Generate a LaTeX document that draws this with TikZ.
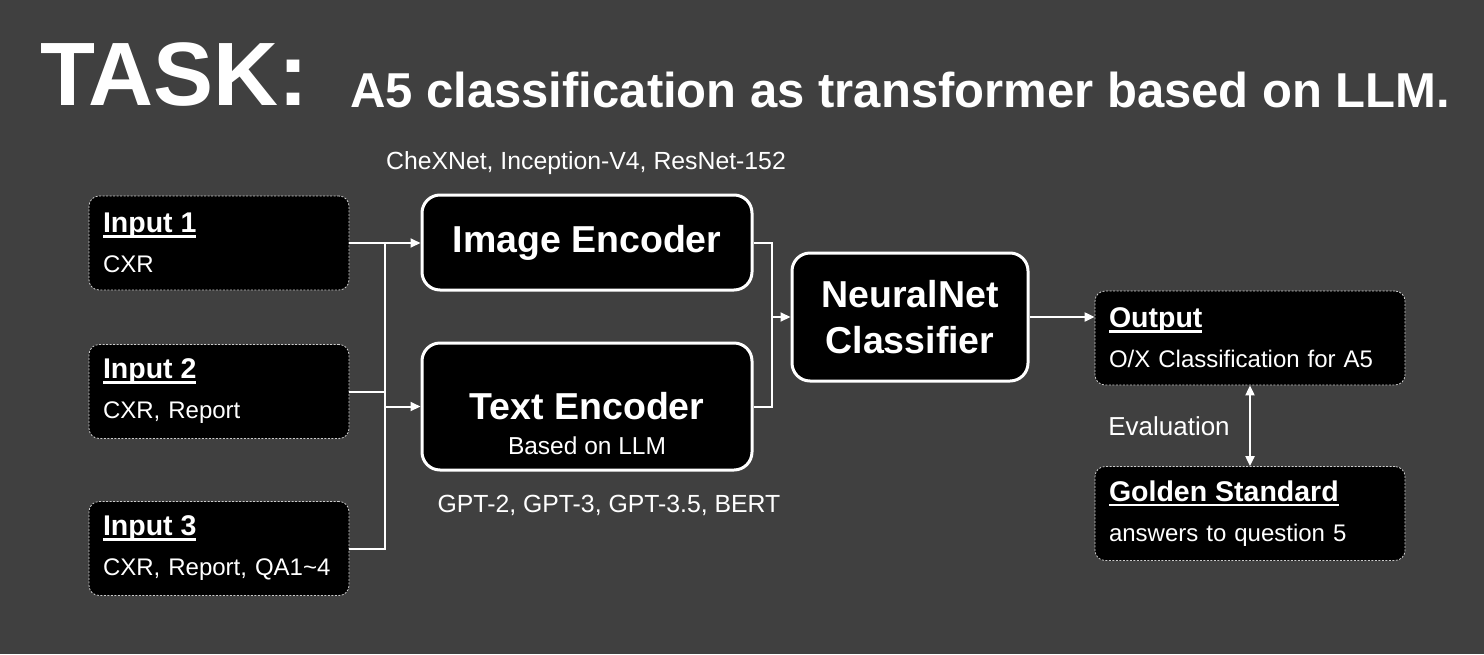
\documentclass[tikz,border=0pt]{standalone}
\usepackage{fontspec}
\setmainfont{Liberation Sans}
\usetikzlibrary{arrows.meta}

\definecolor{bgdark}{HTML}{404040}
\newcommand\ulhead[1]{\setbox0\hbox{\fontsize{28.5}{30}\selectfont\bfseries #1}\rlap{\rule[-5pt]{\wd0}{2.5pt}}\box0}

\begin{document}
\begin{tikzpicture}[x=1pt, y=-1pt, >={Triangle[length=10pt,width=9pt]},
  encbox/.style={draw=white, line width=3pt, fill=black, rounded corners=18pt,
    text=white, align=center, font=\fontsize{37.5}{46}\selectfont\bfseries},
  inbox/.style={draw=white!80!black, line width=0.8pt, dash pattern=on 2pt off 1.5pt,
    fill=black, rounded corners=10pt, minimum width=260pt, minimum height=94pt,
    text width=232pt, align=left, text=white, font=\fontsize{24}{40}\selectfont},
  conn/.style={draw=white, line width=2pt},
  note/.style={text=white, font=\fontsize{24.8}{28}\selectfont}]
  \fill[bgdark] (0,0) rectangle (1484,654);

  % title
  \node[anchor=base west, inner sep=0, text=white, font=\fontsize{90}{92}\selectfont\bfseries] (task) at (40,105) {TASK:};
  \node[anchor=base west, inner sep=0, text=white, font=\fontsize{49}{52}\selectfont\bfseries] (tasktitle) at (350,107) {A5 classification as transformer based on LLM.};

  % inputs
  \node[inbox] (in1) at (219,243) {\ulhead{Input 1}\\CXR};
  \node[inbox] (in2) at (219,391.5) {\ulhead{Input 2}\\CXR, Report};
  \node[inbox] (in3) at (219,548.5) {\ulhead{Input 3}\\CXR, Report, QA1\textasciitilde4};

  % encoders
  \node[encbox, minimum width=330pt, minimum height=95pt] (img) at (587,242.5) {Image Encoder};
  \node[encbox, minimum width=330pt, minimum height=127pt] (txt) at (587,406.5) {Text Encoder};
  \node[note, font=\fontsize{24.5}{26}\selectfont] (txtllm) at (587,446) {Based on LLM};
  \node[note] (imgnets) at (586,163) {CheXNet, Inception-V4, ResNet-152};
  \node[note] (txtnets) at (609,505) {GPT-2, GPT-3, GPT-3.5, BERT};

  \node[encbox, minimum width=236pt, minimum height=128pt] (cls) at (910,317) {NeuralNet\\Classifier};

  % output side
  \node[inbox, minimum width=310pt, text width=282pt] (out) at (1250,338) {\ulhead{Output}\\O/X Classification for A5};
  \node[inbox, minimum width=310pt, text width=282pt] (gold) at (1250,513.5) {\ulhead{Golden Standard}\\answers to question 5};
  \node[note, font=\fontsize{26}{28}\selectfont] (evallbl) at (1169,426) {Evaluation};

  % connectors
  \coordinate (bus) at (385,0);
  \coordinate (merge) at (772,0);
  \draw[conn,->] (in1.east) -- (img.west |- in1.east);
  \draw[conn] (bus |- in1.east) -- (bus |- in3.east) -- (in3.east);
  \draw[conn] (in2.east) -- (bus |- in2.east);
  \draw[conn,->] (bus |- txt.west) -- (txt.west);
  \draw[conn] (img.east) -- (merge |- img.east) -- (merge |- txt.east) -- (txt.east);
  \draw[conn,->] (merge |- cls.west) -- (cls.west);
  \draw[conn,->] (cls.east) -- (out.west |- cls.east);
  \draw[conn,<->] (out.south) -- (gold.north);
\end{tikzpicture}
\end{document}
